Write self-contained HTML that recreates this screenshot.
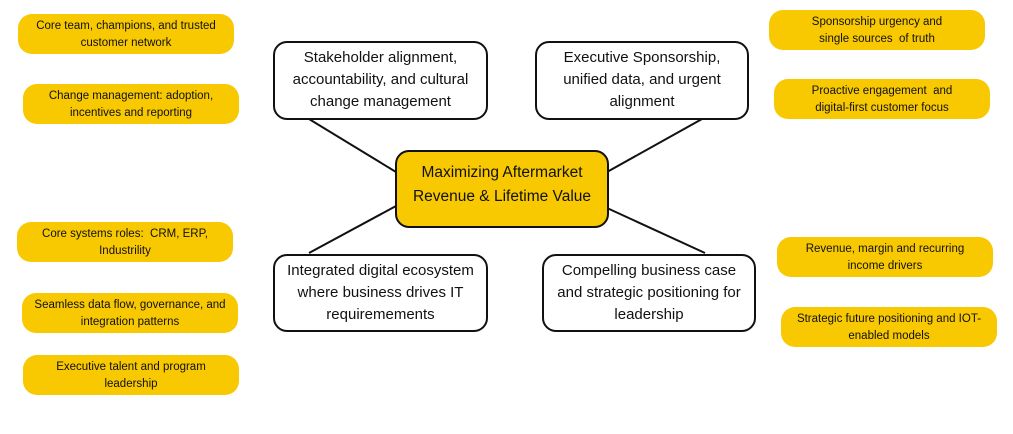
<!DOCTYPE html>
<html><head><meta charset="utf-8"><style>
html,body{margin:0;padding:0;background:#fff;}
body{width:1013px;height:434px;position:relative;overflow:hidden;font-family:"Liberation Sans",sans-serif;color:#111;}
.p{position:absolute;width:216px;height:40px;background:#f8c800;border-radius:14px;font-size:11.5px;line-height:17px;text-align:center;box-sizing:border-box;padding-top:4px;}
.b{position:absolute;box-sizing:border-box;border:2px solid #111;border-radius:14px;background:#fff;font-size:15px;line-height:22px;text-align:center;padding-top:4px;}
svg{position:absolute;left:0;top:0;}
</style></head><body>
<svg width="1013" height="434"><g stroke="#111" stroke-width="2">
<line x1="309" y1="119" x2="396" y2="172"/>
<line x1="702" y1="119" x2="607" y2="172"/>
<line x1="309" y1="253" x2="396" y2="206"/>
<line x1="607" y1="208" x2="705" y2="253"/>
</g></svg>
<div class="b" style="left:273px;top:41px;width:215px;height:79px;">Stakeholder alignment,<br>accountability, and cultural<br>change management</div>
<div class="b" style="left:535px;top:41px;width:214px;height:79px;">Executive Sponsorship,<br>unified data, and urgent<br>alignment</div>
<div class="b" style="left:395px;top:150px;width:214px;height:78px;background:#f8c800;font-size:15.5px;line-height:24px;padding-top:9px;">Maximizing Aftermarket<br>Revenue &amp; Lifetime Value</div>
<div class="b" style="left:273px;top:254px;width:215px;height:78px;">Integrated digital ecosystem<br>where business drives IT<br>requiremements</div>
<div class="b" style="left:542px;top:254px;width:214px;height:78px;">Compelling business case<br>and strategic positioning for<br>leadership</div>

<div class="p" style="left:18px;top:14px;">Core team, champions, and trusted<br>customer network</div>
<div class="p" style="left:23px;top:84px;">Change management: adoption,<br>incentives and reporting</div>
<div class="p" style="left:17px;top:222px;">Core systems roles:&nbsp; CRM, ERP,<br>Industrility</div>
<div class="p" style="left:22px;top:293px;">Seamless data flow, governance, and<br>integration patterns</div>
<div class="p" style="left:23px;top:355px;">Executive talent and program<br>leadership</div>

<div class="p" style="left:769px;top:10px;">Sponsorship urgency and<br>single sources&nbsp; of truth</div>
<div class="p" style="left:774px;top:79px;">Proactive engagement&nbsp; and<br>digital-first customer focus</div>
<div class="p" style="left:777px;top:237px;">Revenue, margin and recurring<br>income drivers</div>
<div class="p" style="left:781px;top:307px;">Strategic future positioning and IOT-<br>enabled models</div>
</body></html>
